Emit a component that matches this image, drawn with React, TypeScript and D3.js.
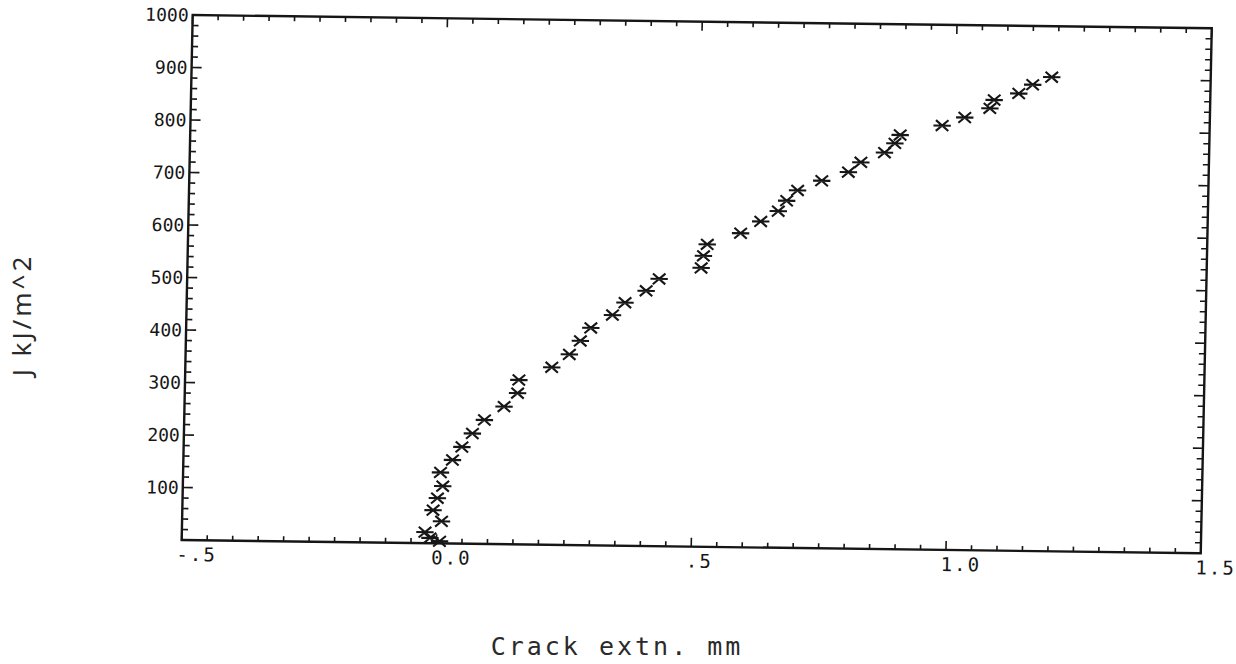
import React, { useEffect, useRef } from 'react';
import * as d3 from 'd3';

// crack extension (mm) and J (kJ/m^2)
const crackExt = [
  -0.023, -0.013, 0.006, 0.009, -0.008, 0.0, 0.01, 0.005, 0.028, 0.046, 0.066, 0.089,
  0.127, 0.153, 0.155, 0.219, 0.253, 0.274, 0.294, 0.336, 0.36, 0.401, 0.426, 0.508,
  0.512, 0.519, 0.584, 0.623, 0.657, 0.673, 0.694, 0.741, 0.793, 0.817, 0.863, 0.883,
  0.893, 0.975, 1.019, 1.068, 1.076, 1.124, 1.151, 1.188
];
const jValues = [
  21, 10, 4, 42, 63, 86, 109, 135, 159, 184, 210, 236, 262, 288, 313, 338, 363, 389,
  414, 439, 463, 486, 509, 531, 554, 576, 598, 621, 641, 661, 681, 700, 717, 736, 755,
  773, 789, 808, 824, 842, 858, 871, 888, 903
];

const xTickValues = [-0.5, 0, 0.5, 1.0, 1.5];
const xTickLabels = ['-.5', '0.0', '.5', '1.0', '1.5'];
const yTickValues = [100, 200, 300, 400, 500, 600, 700, 800, 900, 1000];
const yTickLabels = ['100', '200', '300', '400', '500', '600', '700', '800', '900', '1000'];

// asterisk: horizontal bar plus two diagonals
const starType = {
  draw(ctx: any, size: number) {
    const r = Math.sqrt(size) / 2;
    const dx = r * 0.72;
    const dy = r * 0.62;
    ctx.moveTo(-r, 0);
    ctx.lineTo(r, 0);
    ctx.moveTo(-dx, -dy);
    ctx.lineTo(dx, dy);
    ctx.moveTo(-dx, dy);
    ctx.lineTo(dx, -dy);
  }
};

const App = () => {
  const svgRef = useRef<SVGSVGElement>(null);

  useEffect(() => {
    const W = 1015;
    const H = 525;
    const root = d3.select(svgRef.current);
    root.selectAll('*').remove();

    // the scanned frame is slightly skewed
    const g = root.append('g').attr('transform', 'matrix(1.004,0.0131,-0.021,1,192.7,15)');

    const x = d3.scaleLinear().domain([-0.5, 1.5]).range([0, W]);
    const y = d3.scaleLinear().domain([0, 1000]).range([H, 0]);

    const ink = '#161616';
    const font = '"DejaVu Sans Mono", monospace';

    g.append('rect')
      .attr('x', 0).attr('y', 0).attr('width', W).attr('height', H)
      .attr('fill', 'none').attr('stroke', ink).attr('stroke-width', 2.4);

    // ticks, inward on all four sides
    const xMinor = d3.range(0, 41).map((i) => -0.5 + i * 0.05);
    const yMinor = d3.range(0, 51).map((i) => i * 20);
    const isMajorX = (v: number) => Math.abs(v * 2 - Math.round(v * 2)) < 1e-6;
    const isMajorY = (v: number) => v % 100 === 0;

    const ticks = g.append('g').attr('stroke', ink).attr('stroke-width', 1.6);
    xMinor.forEach((v) => {
      const len = isMajorX(v) ? 9 : 5;
      ticks.append('line').attr('x1', x(v)).attr('x2', x(v)).attr('y1', H).attr('y2', H - len);
      ticks.append('line').attr('x1', x(v)).attr('x2', x(v)).attr('y1', 0).attr('y2', len);
    });
    yMinor.forEach((v) => {
      const len = isMajorY(v) ? 10 : 6;
      ticks.append('line').attr('x1', 0).attr('x2', len).attr('y1', y(v)).attr('y2', y(v));
      ticks.append('line').attr('x1', W).attr('x2', W - len).attr('y1', y(v)).attr('y2', y(v));
    });

    // x tick labels, left-aligned at the tick
    xTickValues.forEach((v, i) => {
      g.append('text')
        .attr('x', x(v) - 5)
        .attr('y', H + 21)
        .attr('font-family', font)
        .attr('font-size', 19)
        .attr('letter-spacing', 2)
        .attr('fill', ink)
        .text(xTickLabels[i]);
    });

    // y tick labels
    yTickValues.forEach((v, i) => {
      g.append('text')
        .attr('x', -4)
        .attr('y', y(v))
        .attr('dy', '0.36em')
        .attr('text-anchor', 'end')
        .attr('font-family', font)
        .attr('font-size', 18)
        .attr('fill', ink)
        .text(yTickLabels[i]);
    });

    // data points
    const star = d3.symbol().type(starType as any).size(300);
    g.append('g')
      .selectAll('path')
      .data(crackExt.map((c, i) => ({ c, j: jValues[i] })))
      .join('path')
      .attr('transform', (d) => `translate(${x(d.c)},${y(d.j)})`)
      .attr('d', star())
      .attr('fill', 'none')
      .attr('stroke', ink)
      .attr('stroke-width', 2.1);

    // axis titles
    root.append('text')
      .attr('x', 617)
      .attr('y', 655)
      .attr('text-anchor', 'middle')
      .attr('font-family', font)
      .attr('font-size', 25)
      .attr('letter-spacing', 3)
      .attr('fill', '#2a2a2a')
      .text('Crack extn. mm');

    root.append('text')
      .attr('transform', 'translate(31,315) rotate(-90)')
      .attr('text-anchor', 'middle')
      .attr('font-family', '"Noto Sans", sans-serif')
      .attr('font-size', 26)
      .attr('letter-spacing', 3)
      .attr('fill', '#2a2a2a')
      .text('J kJ/m^2');
  }, []);

  return (
    <svg
      ref={svgRef}
      width={1236}
      height={664}
      style={{ position: 'absolute', left: 0, top: 0, background: '#fff' }}
    />
  );
};

export default App;
